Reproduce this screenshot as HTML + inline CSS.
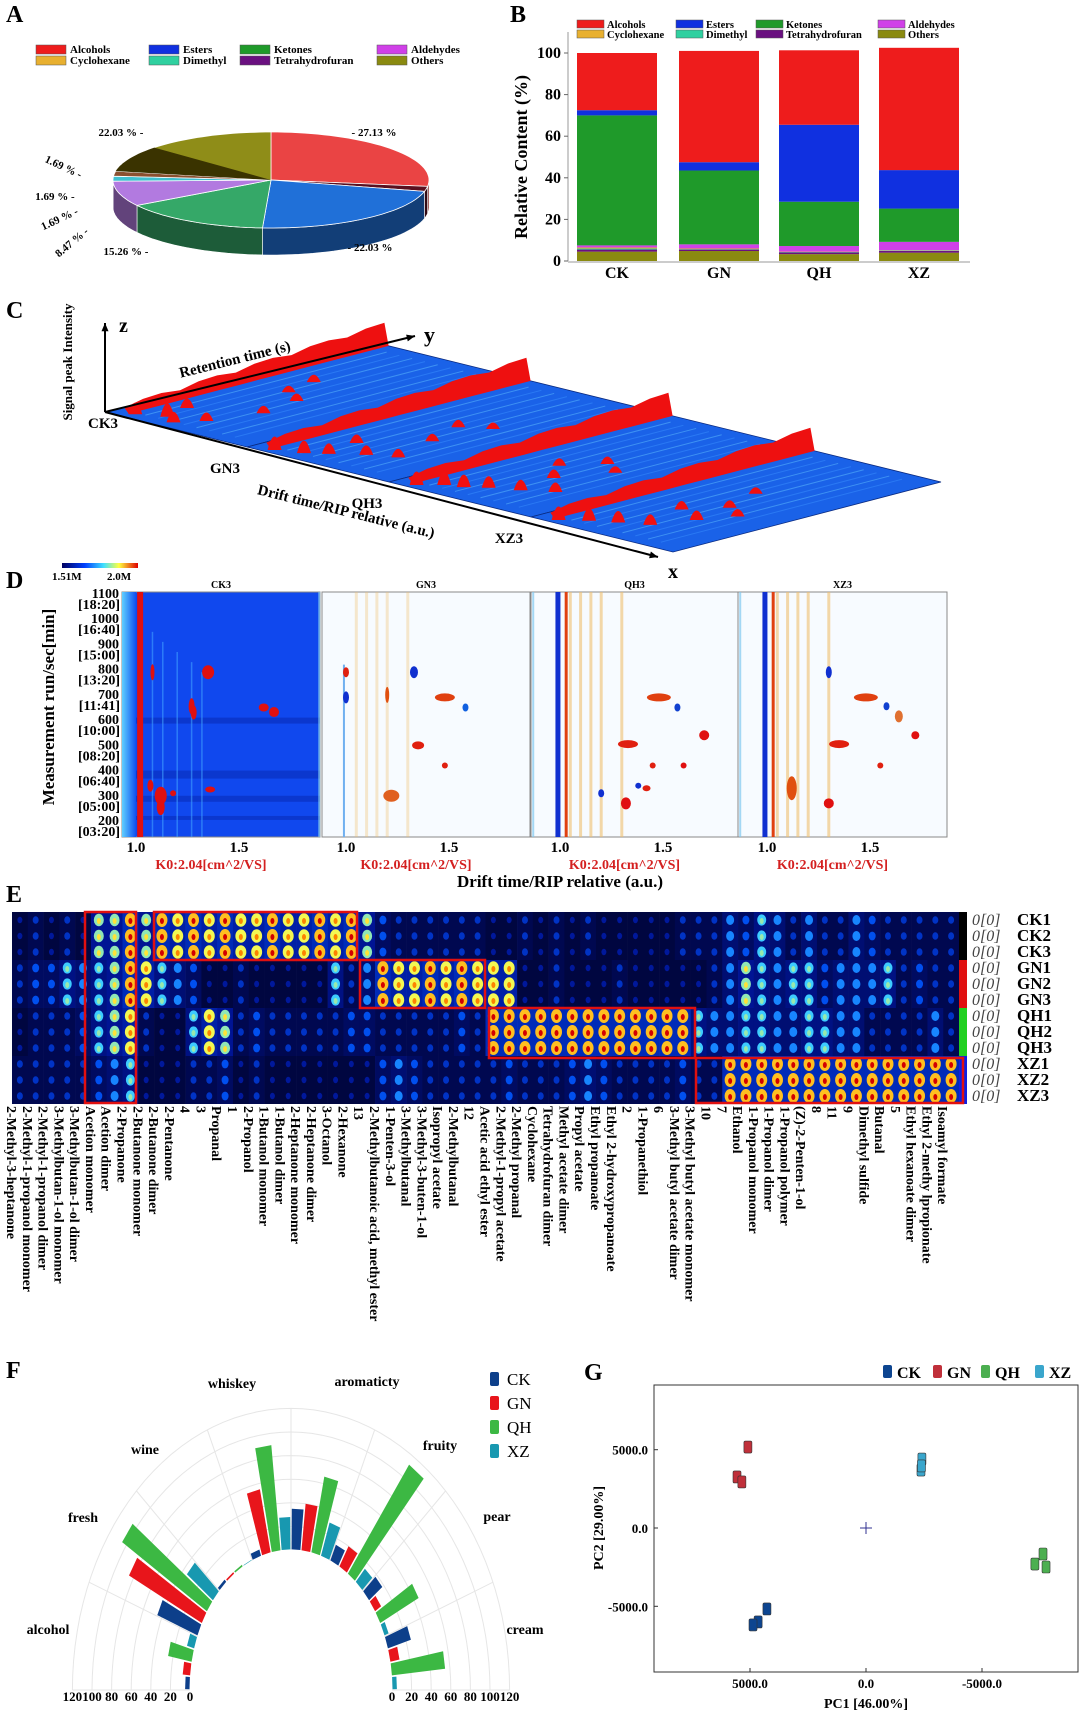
<!DOCTYPE html>
<html><head><meta charset="utf-8">
<style>
html,body{margin:0;padding:0;background:#fff;}
svg{display:block;font-family:"Liberation Serif",serif;}
</style></head>
<body>
<svg id="fig" width="1080" height="1712" viewBox="0 0 1080 1712" xmlns="http://www.w3.org/2000/svg">
<defs>
<linearGradient id="cbar" x1="0" x2="1" y1="0" y2="0">
<stop offset="0" stop-color="#000060"/><stop offset="0.3" stop-color="#0040ff"/><stop offset="0.55" stop-color="#40e0ff"/><stop offset="0.75" stop-color="#ffff40"/><stop offset="1" stop-color="#e00000"/></linearGradient>
<linearGradient id="ckband" x1="0" x2="1"><stop offset="0" stop-color="#60d0ff"/><stop offset="1" stop-color="#1050f0"/></linearGradient>
</defs>
</svg>
<script>
// ---------- data ----------
const pieLabels=['Alcohols','Tetrahydrofuran','Esters','Ketones','Aldehydes','Dimethyl','Cyclohexane','Others'];
const pieValues=[27.13,1.69,22.03,15.26,8.47,1.69,1.69,22.03];
const barGroups=['CK','GN','QH','XZ'];
const stackOrder=['Others','Tetrahydrofuran','Dimethyl','Cyclohexane','Aldehydes','Ketones','Esters','Alcohols'];
const ckStack=[4.5,1.0,0.5,0.5,1.0,62.5,2.5,27.5];
const gnStack=[4.8,0.7,0.2,0.3,2.0,35.5,4.0,53.5];
const qhStack=[3.3,0.8,0.2,0.2,2.7,21.3,37.0,35.8];
const xzStack=[4.0,0.8,0.2,0.2,4.0,16.0,18.5,58.8];
const barTicks=[0,20,40,60,80,100];
const heatCols=['2-Methyl-3-heptanone','2-Methyl-1-propanol monomer','2-Methyl-1-propanol dimer','3-Methylbutan-1-ol monomer','3-Methylbutan-1-ol dimer','Acetion monomer','Acetion dimer','2-Propanone','2-Butanone monomer','2-Butanone dimer','2-Pentanone','4','3','Propanal','1','2-Propanol','1-Butanol monomer','1-Butanol dimer','2-Heptanone monomer','2-Heptanone dimer','3-Octanol','2-Hexanone','13','2-Methylbutanoic acid, methyl ester','1-Penten-3-ol','3-Methylbutanal','3-Methyl-3-buten-1-ol','Isopropyl acetate','2-Methylbutanal','12','Acetic acid ethyl ester','2-Methyl-1-propyl acetate','2-Methyl propanal','Cyclohexane','Tetrahydrofuran dimer','Methyl acetate dimer','Propyl acetate','Ethyl propanoate','Ethyl 2-hydroxypropanoate','2','1-Propanethiol','6','3-Methyl butyl acetate dimer','3-Methyl butyl acetate monomer','10','7','Ethanol','1-Propanol monomer','1-Propanol dimer','1-Propanol polymer','(Z)-2-Penten-1-ol','8','11','9','Dimethyl sulfide','Butanal','5','Ethyl hexanoate dimer','Ethyl 2-methy lpropionate','Isoamyl formate'];
const heatRows=['CK1','CK2','CK3','GN1','GN2','GN3','QH1','QH2','QH3','XZ1','XZ2','XZ3'];
const heatCK='232327797989898898898974333333223232322222333546535335433333333'.slice(0,60);
const heatGN='344656798654223222226359889898882232223222223576566455563433333'.slice(0,60);
const heatQH='233346783226873433333443333343999999999999965566556655333353333'.slice(0,60);
const heatXZ='333334562223342322222224543333343334543333433999999999999999999'.slice(0,60);
const fCats=['alcohol','fresh','wine','whiskey','aromaticty','fruity','pear','cream'];
const fCK=[5,45,3,6,35,15,18,25];
const fGN=[8,85,2,55,40,20,8,10];
const fQH=[25,105,2,90,66,112,45,55];
const fXZ=[8,35,1,28,30,15,5,5];
const fTicks=[0,20,40,60,80,100,120];
const pcaGroups=['CK','GN','QH','XZ'];
const pcaPC1=[[4270,4650,4870],[5090,5560,5350],[-7630,-7280,-7760],[-2410,-2370,-2390]];
const pcaPC2=[[-5170,-6000,-6190],[5170,3260,2940],[-1660,-2300,-2490],[4400,3700,3960]];
const pcaTicks=[5000,0,-5000];

// ---------- helpers ----------
const NS='http://www.w3.org/2000/svg';
const svg=document.getElementById('fig');
function mk(tag,attrs,parent){const e=document.createElementNS(NS,tag);for(const k in attrs)e.setAttribute(k,attrs[k]);(parent||svg).appendChild(e);return e;}
function tx(x,y,s,attrs,parent){const e=mk('text',Object.assign({x:x,y:y},attrs||{}),parent);e.textContent=s;return e;}
function grp(name){const g=mk('g',{});return g;}
function lbl(x,y,s,name,g){const t=tx(x,y,s,{'font-size':24,'font-weight':'bold'},g);}
const catColor={Alcohols:'#ee1c1c',Esters:'#1030e0',Ketones:'#1f9a2a',Aldehydes:'#d040e8',Cyclohexane:'#e8b030',Dimethyl:'#30d0a0',Tetrahydrofuran:'#6a1080',Others:'#8a8a10'};
const pieColor={Alcohols:'#ea4444',Tetrahydrofuran:'#5a1020',Esters:'#2070d8',Ketones:'#35a868',Aldehydes:'#b27ae0',Dimethyl:'#40c0d0',Cyclohexane:'#8a5030',Others:'#8f8d18'};
function shade(hex,f){const n=parseInt(hex.slice(1),16);let r=n>>16,g=(n>>8)&255,b=n&255;r=Math.round(r*f);g=Math.round(g*f);b=Math.round(b*f);return 'rgb('+r+','+g+','+b+')';}

// ---------- Panel A: pie ----------
(function(){
const g=grp('panel-a-pie-chart');
lbl(6,22,'A','panel-a-label',g);
const legOrder=['Alcohols','Esters','Ketones','Aldehydes','Cyclohexane','Dimethyl','Tetrahydrofuran','Others'];
const lx=[36,149,240,377],ly=[45,56];
legOrder.forEach((c,i)=>{const x=lx[i%4],y=ly[Math.floor(i/4)];
 const s=mk('rect',{x:x,y:y,width:30,height:9,fill:catColor[c],stroke:'#555','stroke-width':0.5},g);
 
 const t=tx(x+34,y+8,c,{'font-size':11,'font-weight':'bold'},g);
 });
const cx=271,cy=180,rx=158,ry=48,dep=27;
const P=(d,dy)=>{const r=d*Math.PI/180;return [cx+rx*Math.sin(r),cy-ry*Math.cos(r)+(dy||0)];};
const total=pieValues.reduce((a,b)=>a+b,0);
let a=0;const arcs=[];
pieValues.forEach((v,i)=>{const a1=a+v/total*360;arcs.push([a,a1]);a=a1;});
arcs.forEach(([a0,a1],i)=>{const s0=Math.max(a0,90),s1=Math.min(a1,270);if(s0>=s1)return;
 let d='';const N=30;for(let k=0;k<=N;k++){const p=P(s0+(s1-s0)*k/N);d+=(k?'L':'M')+p[0].toFixed(1)+','+p[1].toFixed(1);}
 for(let k=N;k>=0;k--){const p=P(s0+(s1-s0)*k/N,dep);d+='L'+p[0].toFixed(1)+','+p[1].toFixed(1);}
 const e=mk('path',{d:d+'Z',fill:shade(pieColor[pieLabels[i]],0.55),stroke:'#fff','stroke-width':0.6},g);
 });
arcs.forEach(([a0,a1],i)=>{let d='M'+cx+','+cy;const N=40;for(let k=0;k<=N;k++){const p=P(a0+(a1-a0)*k/N);d+='L'+p[0].toFixed(1)+','+p[1].toFixed(1);}
 const e=mk('path',{d:d+'Z',fill:pieColor[pieLabels[i]],stroke:'#fff','stroke-width':0.8},g);
 
 if(pieLabels[i]==='Others'){let d2='M'+cx+','+cy;for(let k=0;k<=20;k++){const p=P(a0+(a1-a0)*0.4*k/20);d2+='L'+p[0].toFixed(1)+','+p[1].toFixed(1);}
  const sh=mk('path',{d:d2+'Z',fill:'#3a3300'},g);}});
const pl=[['- 27.13 %',374,136,0],['22.03 % -',121,136,0],['1.69 % -',62,170,25],['1.69 % -',55,200,0],['1.69 % -',61,222,-25],['8.47 % -',74,245,-40],['15.26 % -',126,255,0],['- 22.03 %',370,251,0]];
pl.forEach((p,i)=>{const t=tx(p[1],p[2],p[0],{'font-size':11,'font-weight':'bold','text-anchor':'middle',transform:'rotate('+p[3]+' '+p[1]+' '+p[2]+')'},g);
 });
})();

// ---------- Panel B: stacked bars ----------
(function(){
const g=grp('panel-b-stacked-bar-chart');
lbl(510,22,'B','panel-b-label',g);
const legOrder=['Alcohols','Esters','Ketones','Aldehydes','Cyclohexane','Dimethyl','Tetrahydrofuran','Others'];
const lx=[577,676,756,878],ly=[20,30];
legOrder.forEach((c,i)=>{const x=lx[i%4],y=ly[Math.floor(i/4)];
 const s=mk('rect',{x:x,y:y,width:27,height:8,fill:catColor[c],stroke:'#555','stroke-width':0.5},g);
 
 const t=tx(x+30,y+8,c,{'font-size':10.5,'font-weight':'bold'},g);
 });
const y0=261,y100=53;const Y=v=>y0+(y100-y0)*v/100;
const axL=568,axR=970;
const bx=[577,679,779,879],bw=80;
const stacks=[ckStack,gnStack,qhStack,xzStack];
stacks.forEach((st,gi)=>{let acc=0;st.forEach((v,k)=>{const r=mk('rect',{x:bx[gi],y:Y(acc+v),width:bw,height:Y(acc)-Y(acc+v),fill:catColor[stackOrder[k]]},g);
 acc+=v;});
 const t=tx(bx[gi]+bw/2,278,barGroups[gi],{'font-size':16,'font-weight':'bold','text-anchor':'middle'},g);
 });
const ya=mk('line',{x1:axL,y1:32,x2:axL,y2:y0,stroke:'#999','stroke-width':1},g);
const xa=mk('line',{x1:axL,y1:y0+1,x2:axR,y2:y0+1,stroke:'#999','stroke-width':1},g);
barTicks.forEach(v=>{const tk=mk('line',{x1:axL-4,x2:axL,y1:Y(v),y2:Y(v),stroke:'#666'},g);
 const t=tx(561,Y(v)+5,String(v),{'font-size':16,'font-weight':'bold','text-anchor':'end'},g);});
const yt=tx(527,157,'Relative Content (%)',{'font-size':18,'font-weight':'bold','text-anchor':'middle',transform:'rotate(-90 527 157)'},g);

})();

// ---------- Panel C: 3D spectra ----------
(function(){
const g=grp('panel-c-3d-spectra');
lbl(6,318,'C','panel-c-label',g);
const O=[105,412],Yv=[268,-70],Xs=[142,35];
const pt=(k,xf,yf,dz)=>[O[0]+Xs[0]*(k+xf)+Yv[0]*yf,O[1]+Xs[1]*(k+xf)+Yv[1]*yf-(dz||0)];
const names=['CK3','GN3','QH3','XZ3'];
const blobs=[
 [[0.1,0.06,10],[0.25,0.1,12],[0.35,0.07,9],[0.45,0.14,7],[0.55,0.3,6],[0.5,0.45,6],[0.35,0.5,5],[0.3,0.62,6],[0.2,0.2,8]],
 [[0.1,0.05,12],[0.25,0.08,11],[0.35,0.12,9],[0.5,0.18,8],[0.65,0.22,7],[0.55,0.4,6],[0.45,0.55,6],[0.6,0.6,5],[0.3,0.25,7]],
 [[0.1,0.05,12],[0.2,0.1,12],[0.3,0.12,11],[0.4,0.16,10],[0.55,0.2,9],[0.7,0.25,8],[0.5,0.35,7],[0.35,0.45,6],[0.5,0.55,6],[0.65,0.5,5]],
 [[0.1,0.05,12],[0.22,0.1,11],[0.35,0.14,10],[0.5,0.18,9],[0.6,0.3,8],[0.4,0.35,7],[0.55,0.45,6],[0.7,0.4,6],[0.45,0.6,5]]];
for(let k=0;k<4;k++){
 const c=[pt(k,0,0),pt(k,0,1),pt(k,1,1),pt(k,1,0)];
 const s=mk('polygon',{points:c.map(p=>p.join(',')).join(' '),fill:'#1a62e8',stroke:'#0a2a80','stroke-width':0.8},g);
 
 for(let j=0;j<9;j++){const xf=0.1+j*0.09,a=pt(k,xf,0.05),b=pt(k,xf,0.95);
  const l=mk('line',{x1:a[0],y1:a[1],x2:b[0],y2:b[1],stroke:j%2?'#60c0ff':'#3a90ff','stroke-width':1,opacity:0.5},g);
  }
 const wall=[];const N=14;
 for(let i=0;i<=N;i++){const yf=0.03+0.97*i/N;wall.push(pt(k,0.08,yf,5+14*i/N+((i%3)?3:0)));}
 for(let i=N;i>=0;i--){const yf=0.03+0.97*i/N;wall.push(pt(k,0.11,yf,0));}
 const w=mk('polygon',{points:wall.map(p=>p[0].toFixed(1)+','+p[1].toFixed(1)).join(' '),fill:'#ee1010'},g);
 
 blobs[k].forEach(b=>{const p=pt(k,b[0],b[1]);const q=mk('path',{d:'M'+(p[0]-7)+','+(p[1]+3)+'Q'+p[0]+','+(p[1]-b[2]*2)+' '+(p[0]+7)+','+(p[1]+3)+'Z',fill:'#f01010'},g);
  });
 const lp=pt(k,0,0);const t=tx(lp[0]-2+(k?-20:0),lp[1]+16+(k?10:0),names[k],{'font-size':15,'font-weight':'bold','text-anchor':'middle'},g);
 
}
const ax=(x1,y1,x2,y2,n)=>{const l=mk('line',{x1:x1,y1:y1,x2:x2,y2:y2,stroke:'#000','stroke-width':2},g);
 const an=Math.atan2(y2-y1,x2-x1),h=9;const p=mk('polygon',{points:[[x2,y2],[x2-h*Math.cos(an-0.4),y2-h*Math.sin(an-0.4)],[x2-h*Math.cos(an+0.4),y2-h*Math.sin(an+0.4)]].map(q=>q.join(',')).join(' '),fill:'#000'},g);};
ax(105,412,105,323,'z-axis');ax(105,412,415,336,'y-axis');ax(105,412,658,557,'x-axis');
let t;
t=tx(119,332,'z',{'font-size':20,'font-weight':'bold'},g);
t=tx(424,342,'y',{'font-size':22,'font-weight':'bold'},g);
t=tx(668,578,'x',{'font-size':20,'font-weight':'bold'},g);
t=tx(72,362,'Signal peak Intensity',{'font-size':13,'font-weight':'bold','text-anchor':'middle',transform:'rotate(-90 72 362)'},g);
t=tx(236,364,'Retention time (s)',{'font-size':15,'font-weight':'bold','text-anchor':'middle',transform:'rotate(-14 236 364)'},g);
t=tx(345,516,'Drift time/RIP relative (a.u.)',{'font-size':15,'font-weight':'bold','text-anchor':'middle',transform:'rotate(14 345 516)'},g);
})();

// ---------- Panel D: 2D topographic ----------
(function(){
const g=grp('panel-d-topographic-maps');
lbl(6,588,'D','panel-d-label',g);
const cb=mk('rect',{x:62,y:563,width:76,height:5,fill:'url(#cbar)'},g);
let t=tx(52,580,'1.51M',{'font-size':11,'font-weight':'bold'},g);
t=tx(107,580,'2.0M',{'font-size':11,'font-weight':'bold'},g);
const top=592,bot=837;
const yR=r=>594+(1100-r)*(821-594)/900;
const panels=[{n:'CK3',x0:122,x1:320,one:136},{n:'GN3',x0:322,x1:530,one:346},{n:'QH3',x0:531,x1:738,one:560},{n:'XZ3',x0:738,x1:947,one:767}];
const blobs=[
 [[1.35,790,'#e01010',6,7],[1.27,655,'#e01010',3,8],[1.28,630,'#e01010',3,7],[1.62,650,'#e01010',5,4],[1.67,632,'#e01010',5,5],[1.12,300,'#e01010',6,9],[1.36,325,'#e01010',5,3],[1.07,340,'#e01010',3,6],[1.12,255,'#e01010',4,8],[1.18,310,'#e01010',3,3],[1.08,790,'#e01010',2,8]],
 [[1.33,790,'#1030d0',4,6],[1.0,790,'#e02010',3,5],[1.48,690,'#e04010',10,4],[1.58,650,'#1060e0',3,4],[1.35,500,'#e02010',6,4],[1.48,420,'#e02010',3,3],[1.22,300,'#e06020',8,6],[1.0,690,'#1030d0',3,6],[1.2,700,'#e05010',2,8]],
 [[1.48,690,'#e04010',12,4],[1.7,540,'#e01010',5,5],[1.33,505,'#e02010',10,4],[1.45,420,'#e02010',3,3],[1.32,270,'#e01010',5,6],[1.6,420,'#e01010',3,3],[1.57,650,'#1040d0',3,4],[1.38,340,'#1030d0',3,3],[1.2,310,'#1030d0',3,4],[1.42,330,'#e02010',4,3]],
 [[1.48,690,'#e04010',12,4],[1.72,540,'#e01010',4,4],[1.35,505,'#e02010',10,4],[1.55,420,'#e02010',3,3],[1.3,270,'#e01010',5,5],[1.64,615,'#e07030',4,6],[1.3,790,'#1030d0',3,6],[1.58,655,'#1040d0',3,4],[1.12,330,'#e05010',5,12]]];
panels.forEach((p,pi)=>{
 const X=d=>p.one+(d-1)*206;
 const pg=grp('topo-panel-'+p.n.toLowerCase());g.appendChild(pg);
 const bg=mk('rect',{x:p.x0,y:top,width:p.x1-p.x0,height:bot-top,fill:pi?'#f7fbff':'#1048ee',stroke:'#888','stroke-width':1},pg);
 if(pi===0){const b=mk('rect',{x:p.x0,y:top,width:14,height:bot-top,fill:'url(#ckband)'},pg);
  [[400,8],[300,6],[220,4],[610,6]].forEach(h=>{const r=mk('rect',{x:p.x0+14,y:yR(h[0]),width:p.x1-p.x0-14,height:h[1],fill:'#0a30c0',opacity:0.7},pg);});
  [1.08,1.13,1.2,1.27,1.32].forEach((d,i)=>{const l=mk('line',{x1:X(d),x2:X(d),y1:yR(950-i*40),y2:bot,stroke:'#40a0ff','stroke-width':1.5,opacity:0.6},pg);});
  const rl=mk('rect',{x:X(1.02)-3,y:top,width:6,height:bot-top,fill:'#e01010'},pg);
 } else {
  [1.05,1.1,1.15,1.2,1.3].forEach((d,i)=>{const l=mk('line',{x1:X(d),x2:X(d),y1:top,y2:bot,stroke:'#f0c070','stroke-width':3,opacity:pi===1?0.35:0.6},pg);});
  const c1=mk('line',{x1:X(0.87),x2:X(0.87),y1:top,y2:bot,stroke:'#80c8f0','stroke-width':2,opacity:0.7},pg);
  if(pi>1){const bl=mk('line',{x1:X(0.99),x2:X(0.99),y1:top,y2:bot,stroke:'#1030d0','stroke-width':5},pg);
   const rl=mk('line',{x1:X(1.03),x2:X(1.03),y1:top,y2:bot,stroke:'#e04010','stroke-width':3},pg);}
  else{const bl=mk('line',{x1:X(0.99),x2:X(0.99),y1:yR(820),y2:bot,stroke:'#70b0f0','stroke-width':2},pg);}
 }
 blobs[pi].forEach(b=>{const e=mk('ellipse',{cx:X(b[0]),cy:yR(b[1]),rx:b[3],ry:b[4],fill:b[2]},pg);});
 let t=tx((p.x0+p.x1)/2,588,p.n,{'font-size':10,'font-weight':'bold','text-anchor':'middle'},pg);
 [1.0,1.5].forEach(d=>{const t2=tx(X(d),852,d.toFixed(1),{'font-size':15,'font-weight':'bold','text-anchor':'middle'},pg);});
 t=tx((p.x0+p.x1)/2-10,869,'K0:2.04[cm^2/VS]',{'font-size':14,'font-weight':'bold','fill':'#d42020','text-anchor':'middle'},pg);
});
const rt=[[1100,'18:20'],[1000,'16:40'],[900,'15:00'],[800,'13:20'],[700,'11:41'],[600,'10:00'],[500,'08:20'],[400,'06:40'],[300,'05:00'],[200,'03:20']];
rt.forEach(r=>{let t=tx(119,yR(r[0])+4,String(r[0]),{'font-size':14,'font-weight':'bold','text-anchor':'end'},g);
 t=tx(120,yR(r[0])+15,'['+r[1]+']',{'font-size':14,'font-weight':'bold','text-anchor':'end'},g);});
t=tx(54,707,'Measurement run/sec[min]',{'font-size':17,'font-weight':'bold','text-anchor':'middle',transform:'rotate(-90 54 707)'},g);
t=tx(560,887,'Drift time/RIP relative (a.u.)',{'font-size':17,'font-weight':'bold','text-anchor':'middle'},g);
})();

// ---------- Panel E: fingerprint heatmap ----------
(function(){
const g=grp('panel-e-fingerprint-heatmap');
lbl(6,902,'E','panel-e-label',g);
const X0=12,X1=959,T=912,RH=16;const CW=(X1-X0)/heatCols.length;
const stops=[[0,[0,0,30]],[0.25,[0,20,150]],[0.45,[0,90,255]],[0.6,[70,220,255]],[0.75,[255,250,70]],[0.88,[255,140,0]],[1,[210,0,0]]];
function cs(v){v=Math.max(0,Math.min(1,v));for(let i=1;i<stops.length;i++){if(v<=stops[i][0]){const a=stops[i-1],b=stops[i],f=(v-a[0])/(b[0]-a[0]);return 'rgb('+a[1].map((c,j)=>Math.round(c+(b[1][j]-c)*f)).join(',')+')';}}return 'rgb(210,0,0)';}
const grpStr=[heatCK,heatGN,heatQH,heatXZ];
heatRows.forEach((rn,r)=>{const s=grpStr[Math.floor(r/3)];
 heatCols.forEach((cn,c)=>{const v=parseInt(s[c]||'2',10);const x=X0+c*CW,y=T+r*RH;
  const cell=mk('rect',{x:x.toFixed(2),y:y,width:(CW+0.3).toFixed(2),height:RH,fill:cs(v*0.035)},g);
  
  if(v>=2){const e=mk('ellipse',{cx:(x+CW/2).toFixed(2),cy:y+RH/2,rx:Math.min(5.5,1.5+v*0.5),ry:Math.min(7,2+v*0.6),fill:cs(v/9*0.72+0.1)},g);
   if(v>=6){const d=mk('ellipse',{cx:(x+CW/2).toFixed(2),cy:y+RH/2+1,rx:2,ry:3,fill:cs(v/9)},g);}}
 });
 const gc=['#000','#e01010','#20d020','#1020e0'][Math.floor(r/3)];
 const sb=mk('rect',{x:959,y:T+r*RH,width:8,height:RH,fill:gc},g);
 let t=tx(972,T+r*RH+13,'0[0]',{'font-size':16,'font-style':'italic','fill':'#444'},g);
 t=tx(1017,T+r*RH+13,rn,{'font-size':17,'font-weight':'bold'},g);
});
const boxes=[[85,912,136,1103],[154,912,357,960],[360,960,485,1008],[489,1008,695,1058],[696,1058,963,1103]];
boxes.forEach(b=>{const r=mk('rect',{x:b[0],y:b[1],width:b[2]-b[0],height:b[3]-b[1],fill:'none',stroke:'#e01010','stroke-width':2.5},g);});
heatCols.forEach((cn,c)=>{const x=X0+c*CW-5,y=1106;const t=tx(x.toFixed(1),y,cn,{'font-size':14,'font-weight':'bold',transform:'rotate(90 '+x.toFixed(1)+' '+y+')'},g);
 });
})();

// ---------- Panel F: radial bar chart ----------
(function(){
const g=grp('panel-f-radial-bar-chart');
lbl(6,1378,'F','panel-f-label',g);
const cx=291,cy=1690,R0x=101,R0y=140,kx=0.98,ky=1.18;
const P=(t,v)=>{const r=t*Math.PI/180;return [cx-Math.cos(r)*(R0x+v*kx),cy-Math.sin(r)*(R0y+v*ky)];};
fTicks.forEach(v=>{if(!v)return;let d='';for(let k=0;k<=60;k++){const p=P(k*3,v);d+=(k?'L':'M')+p[0].toFixed(1)+','+p[1].toFixed(1);}
 const a=mk('path',{d:d,fill:'none',stroke:'#e6e6e6','stroke-width':1},g);});
for(let i=0;i<=8;i++){const t=i*22.5,a=P(t,0),b=P(t,120);const l=mk('line',{x1:a[0],y1:a[1],x2:b[0],y2:b[1],stroke:'#e6e6e6'},g);}
const series=[fCK,fGN,fQH,fXZ],cols=['#0d3f8a','#e8151b','#3cb843','#1898b0'],sn=['ck','gn','qh','xz'];
const bw=180/32;
fCats.forEach((c,ci)=>{series.forEach((s,si)=>{const j=ci*4+si,tm=(j+0.5)*bw,h=bw*0.44;
 const pts=[P(tm-h,0.5),P(tm+h,0.5),P(tm+h,s[ci]),P(tm-h,s[ci])];
 const e=mk('polygon',{points:pts.map(p=>p[0].toFixed(1)+','+p[1].toFixed(1)).join(' '),fill:cols[si]},g);
 });});
const cl=[[48,1629],[83,1517],[145,1449],[232,1383],[367,1381],[440,1445],[497,1516],[525,1629]];
fCats.forEach((c,i)=>{const t=tx(cl[i][0],cl[i][1]+5,c,{'font-size':14,'font-weight':'bold','text-anchor':'middle'},g);});
fTicks.forEach(v=>{let t=tx(cx-(R0x+v*kx),1701,String(v),{'font-size':13,'font-weight':'bold','text-anchor':'middle'},g);
 t=tx(cx+(R0x+v*kx),1701,String(v),{'font-size':13,'font-weight':'bold','text-anchor':'middle'},g);});
['CK','GN','QH','XZ'].forEach((s,i)=>{const y=1372+i*24;const r=mk('rect',{x:490,y:y,width:9,height:14,rx:2,fill:cols[i]},g);
 const t=tx(507,y+13,s,{'font-size':17},g);});
})();

// ---------- Panel G: PCA ----------
(function(){
const g=grp('panel-g-pca-scatter');
lbl(584,1380,'G','panel-g-label',g);
const bx0=654,bx1=1078,by0=1385,by1=1672;
const X=v=>866-v*116/5000,Y=v=>1528-v*78.3/5000;
const box=mk('rect',{x:bx0,y:by0,width:bx1-bx0,height:by1-by0,fill:'#fff',stroke:'#333','stroke-width':1},g);
pcaTicks.forEach(v=>{let tk=mk('line',{x1:X(v),x2:X(v),y1:by1,y2:by1-4,stroke:'#333'},g);
 let t=tx(X(v),1688,v.toFixed(1),{'font-size':13,'font-weight':'bold','text-anchor':'middle'},g);
 tk=mk('line',{x1:bx0,x2:bx0+4,y1:Y(v),y2:Y(v),stroke:'#333'},g);
 t=tx(648,Y(v)+5,v.toFixed(1),{'font-size':13,'font-weight':'bold','text-anchor':'end'},g);});
const c1=mk('line',{x1:X(0)-6,x2:X(0)+6,y1:Y(0),y2:Y(0),stroke:'#303090'},g);
const c2=mk('line',{x1:X(0),x2:X(0),y1:Y(0)-6,y2:Y(0)+6,stroke:'#303090'},g);
const cols=['#0d4590','#c0303a','#4caf50','#3aa6cc'];
pcaGroups.forEach((gn,gi)=>{pcaPC1[gi].forEach((v,i)=>{const r=mk('rect',{x:X(v)-4,y:Y(pcaPC2[gi][i])-6,width:8,height:12,rx:1.5,fill:cols[gi],stroke:'#333','stroke-width':0.6},g);
 });
 const lx=[883,933,981,1035][gi];const s=mk('rect',{x:lx,y:1365,width:9,height:13,rx:2,fill:cols[gi]},g);
 const t=tx(lx+14,1378,gn,{'font-size':16,'font-weight':'bold'},g);});
let t=tx(866,1708,'PC1  [46.00%]',{'font-size':14,'font-weight':'bold','text-anchor':'middle'},g);
t=tx(603,1528,'PC2  [29.00%]',{'font-size':14,'font-weight':'bold','text-anchor':'middle',transform:'rotate(-90 603 1528)'},g);
})();
</script>
</body></html>
